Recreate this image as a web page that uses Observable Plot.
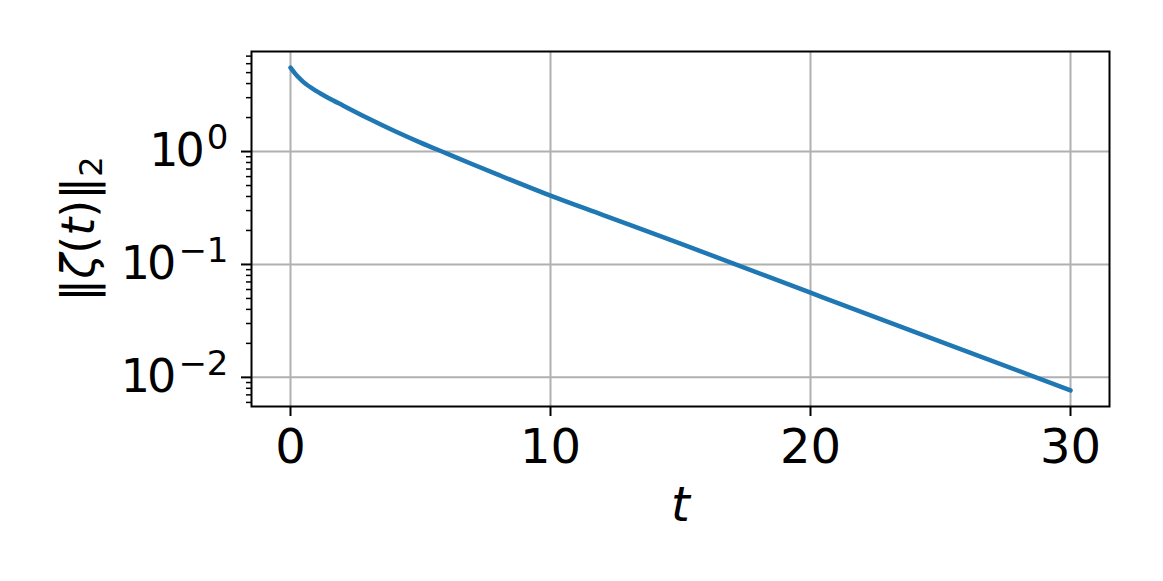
<!DOCTYPE html>
<html>
<head>
<meta charset="utf-8">
<script src="https://cdn.jsdelivr.net/npm/d3@7"></script>
<script src="https://cdn.jsdelivr.net/npm/@observablehq/plot@0.6"></script>
<style>
  html, body { margin: 0; padding: 0; background: #fff; }
</style>
</head>
<body>
<div id="chart"></div>
<script>
// Data
const tValues    = [0, 0.25, 0.5, 1, 1.5, 2, 3, 4, 5, 6, 7, 8, 10, 12, 15, 20, 25, 30];
const normValues = [5.53, 4.68, 4.12, 3.43, 2.95, 2.57, 1.96, 1.52, 1.20, 0.962, 0.771, 0.621, 0.407, 0.275, 0.153, 0.0562, 0.0207, 0.00767];

const xTicks = [0, 10, 20, 30];
const yMajorTicks = [0.01, 0.1, 1];
const yMinorTicks = [0.006, 0.007, 0.008, 0.009,
  0.02, 0.03, 0.04, 0.05, 0.06, 0.07, 0.08, 0.09,
  0.2, 0.3, 0.4, 0.5, 0.6, 0.7, 0.8, 0.9,
  2, 3, 4, 5, 6, 7];
const xLabel = ["t"];
const yLabel = ["||zeta(t)||_2"];

const data = tValues.map((t, i) => ({t, v: normValues[i]}));

const svg = Plot.plot({
  width: 1163,
  height: 581,
  marginLeft: 251,
  marginRight: 54,
  marginTop: 51,
  marginBottom: 175,
  style: {fontFamily: "'DejaVu Sans', sans-serif", background: "white", color: "black"},
  x: {domain: [-1.5, 31.5]},
  y: {type: "log", domain: [Math.pow(10, -2.258), Math.pow(10, 0.886)]},
  marks: [
    Plot.gridX(xTicks, {stroke: "#b0b0b0", strokeOpacity: 1, strokeWidth: 2}),
    Plot.gridY(yMajorTicks, {stroke: "#b0b0b0", strokeOpacity: 1, strokeWidth: 2}),
    Plot.line(data, {x: "t", y: "v", stroke: "#1f77b4", strokeWidth: 4.5, curve: "monotone-x"}),
    Plot.axisX({ticks: xTicks, tickSize: 10, tickPadding: 12, fontSize: 48, strokeWidth: 2, label: null, tickFormat: d => String(d)}),
    Plot.axisY({ticks: yMajorTicks, tickSize: 10, tickPadding: 13, fontSize: 46, strokeWidth: 2, label: null,
      tickFormat: d => "10^" + Math.round(Math.log10(d))}),
    Plot.axisY({ticks: yMinorTicks, tickSize: 5, strokeWidth: 1.5, label: null, tickFormat: () => ""}),
    Plot.frame({stroke: "black", strokeWidth: 2}),
    Plot.text(xLabel, {frameAnchor: "bottom", dy: 114, lineAnchor: "bottom", textAnchor: "middle", fontSize: 48, fontStyle: "italic", text: d => d}),
    Plot.text(yLabel, {frameAnchor: "left", dx: -172, rotate: -90, textAnchor: "middle", fontSize: 46, text: d => d, className: "ylabel"})
  ]
});

const NS = "http://www.w3.org/2000/svg";
function tspan(txt, attrs) {
  const s = document.createElementNS(NS, "tspan");
  for (const k in attrs) s.setAttribute(k, attrs[k]);
  s.textContent = txt;
  return s;
}
// Superscript exponents on the log tick labels
svg.querySelectorAll("text").forEach(t => {
  const m = /^10\^(.+)$/.exec(t.textContent);
  if (m) {
    t.textContent = "";
    t.appendChild(tspan("10", {"letter-spacing": -3}));
    t.appendChild(tspan(m[1].replace("-", "\u2212"), {"font-size": 34, dy: -17, dx: 5}));
  }
});
// Math-style y label: ‖ζ(t)‖₂
svg.querySelectorAll(".ylabel text").forEach(t => {
  t.textContent = "";
  t.appendChild(tspan("\u2016", {}));
  t.appendChild(tspan("\u03B6", {"font-style": "italic"}));
  t.appendChild(tspan("(", {}));
  t.appendChild(tspan("t", {"font-style": "italic"}));
  t.appendChild(tspan(")", {}));
  t.appendChild(tspan("\u2016", {}));
  t.appendChild(tspan("2", {"font-size": 32, dy: 8}));
});

document.getElementById("chart").appendChild(svg);
</script>
</body>
</html>
